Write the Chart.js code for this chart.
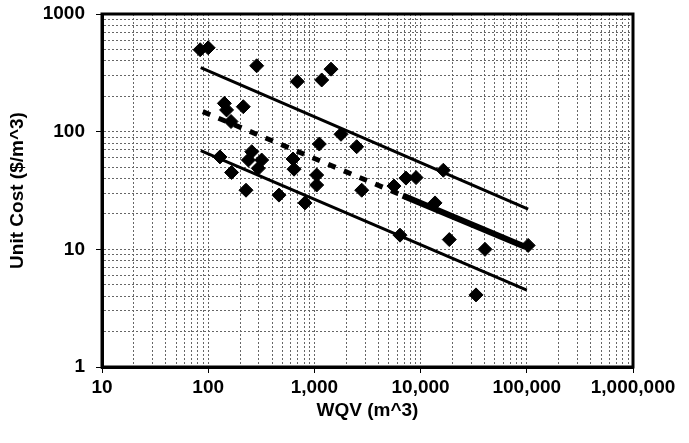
<!DOCTYPE html>
<html>
<head>
<meta charset="utf-8">
<script src="https://cdn.jsdelivr.net/npm/chart.js@4"></script>
<style>
    html, body { margin: 0; padding: 0; background: #fff; }
    #wrap { width: 689px; height: 443px; }
</style>
</head>
<body>
<div id="wrap"><canvas id="costChart" width="689" height="443"></canvas></div>
<script>
// WQV (m^3) vs unit cost ($/m^3)
const wqv = [84, 100, 286, 690, 1172, 1433, 142, 149, 214, 164, 1780, 2500, 129, 166,
    257, 319, 239, 296, 227, 464, 629, 643, 815, 1112, 1051, 1051, 2790, 5610, 7280,
    9060, 16370, 13670, 6400, 18630, 40400, 33250, 103000];
const unitCost = [497, 516, 363, 267, 275, 340, 174, 153, 163, 122, 95, 74.5, 61, 45,
    67.6, 57.4, 57.4, 48.8, 31.8, 28.9, 58.6, 48, 24.8, 78.5, 42.8, 35.2, 31.8, 34.5, 40.3,
    40.7, 47, 24.8, 13.2, 12.1, 10, 4.1, 10.8];

// trend lines (end points)
const upperX = [85, 103000];
const upperY = [350, 22];
const midX = [89, 6800, 96000];   // dashed part, then heavy solid part
const midY = [148, 28.6, 10.5];
const lowerX = [85, 100000];
const lowerY = [69, 4.5];

// axis ticks
const xMajor = [10, 100, 1000, 10000, 100000, 1000000];
const yMajor = [1, 10, 100, 1000];

function toPoints(xs, ys) {
    return xs.map((x, i) => ({ x: x, y: ys[i] }));
}

// all 1..9 x 10^n ticks, majors flagged
function logTicks(majors) {
    const ticks = [];
    majors.forEach((m, i) => {
        if (i === majors.length - 1) {
            ticks.push({ value: m, major: true });
            return;
        }
        for (let k = 1; k < 10; k++) {
            ticks.push({ value: m * k, major: k === 1 });
        }
    });
    return ticks;
}

const font = { family: "'Liberation Sans', Arial, sans-serif", size: 19, weight: 'bold' };

const lineStyle = { showLine: true, pointRadius: 0, borderColor: '#000', fill: false, tension: 0 };

// frame around the plot area
const framePlugin = {
    id: 'frame',
    afterDraw(chart) {
        const a = chart.chartArea;
        const ctx = chart.ctx;
        ctx.save();
        ctx.strokeStyle = '#000';
        ctx.lineWidth = 3;
        ctx.strokeRect(a.left, a.top, a.right - a.left, a.bottom - a.top);
        ctx.restore();
    }
};

function axisCommon(majors, labelFn) {
    return {
        type: 'logarithmic',
        min: majors[0],
        max: majors[majors.length - 1],
        afterBuildTicks: (scale) => { scale.ticks = logTicks(majors); },
        ticks: {
            autoSkip: false,
            maxRotation: 0,
            color: '#000',
            font: font,
            callback: (v) => {
                const e = Math.log10(v);
                return Math.abs(e - Math.round(e)) < 1e-9 ? labelFn(v) : '';
            }
        },
        grid: {
            color: '#666',
            lineWidth: 1,
            tickLength: 6,
            tickWidth: 1,
            tickColor: (c) => (c.tick && c.tick.major ? '#000' : 'rgba(0,0,0,0)')
        },
        border: { display: true, color: '#000', width: 3, dash: [2, 2] }
    };
}

const xAxis = axisCommon(xMajor, v => v.toLocaleString('en-US'));
xAxis.ticks.padding = 3;
xAxis.title = { display: true, text: 'WQV (m^3)', color: '#000', font: font, padding: { top: 4, bottom: 21 } };
xAxis.afterFit = (s) => { s.height = 76; s.paddingLeft = 0; s.paddingRight = 0; };

const yAxis = axisCommon(yMajor, v => String(v));
yAxis.ticks.padding = 11;
yAxis.title = { display: true, text: 'Unit Cost ($/m^3)', color: '#000', font: font, padding: { top: 6, bottom: 0 } };
yAxis.afterFit = (s) => { s.width = 102; s.paddingTop = 0; s.paddingBottom = 0; };

new Chart(document.getElementById('costChart').getContext('2d'), {
    type: 'scatter',
    data: {
        datasets: [
            Object.assign({ data: toPoints(upperX, upperY), borderWidth: 3 }, lineStyle),
            Object.assign({ data: toPoints(lowerX, lowerY), borderWidth: 3 }, lineStyle),
            Object.assign({ data: toPoints(midX.slice(0, 2), midY.slice(0, 2)), borderWidth: 5, borderDash: [8, 9] }, lineStyle),
            Object.assign({ data: toPoints(midX.slice(1), midY.slice(1)), borderWidth: 6 }, lineStyle),
            {
                data: toPoints(wqv, unitCost),
                pointStyle: 'rectRot',
                pointRadius: 7,
                pointHoverRadius: 7,
                backgroundColor: '#000',
                borderColor: '#000',
                borderWidth: 1
            }
        ]
    },
    options: {
        responsive: false,
        animation: false,
        devicePixelRatio: 1,
        layout: { padding: { left: 0, top: 14, right: 56, bottom: 0 } },
        plugins: { legend: { display: false }, tooltip: { enabled: false } },
        scales: { x: xAxis, y: yAxis }
    },
    plugins: [framePlugin]
});
</script>
</body>
</html>
